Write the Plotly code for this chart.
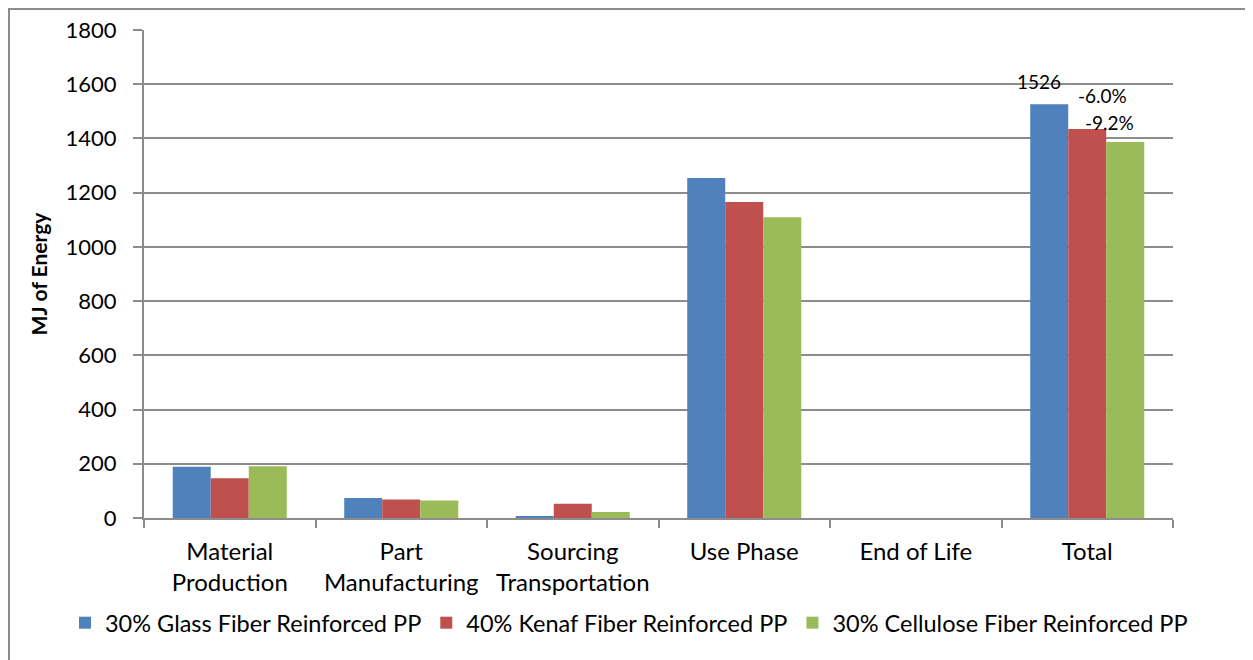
import plotly.graph_objects as go

categories = ["Material<br>Production", "Part<br>Manufacturing", "Sourcing<br>Transportation",
              "Use Phase", "End of Life", "Total"]
series_names = ["30% Glass Fiber Reinforced PP", "40% Kenaf Fiber Reinforced PP",
                "30% Cellulose Fiber Reinforced PP"]
glass = [189, 74, 7, 1254, 0, 1526]
kenaf = [147, 68, 53, 1166, 0, 1435]
cellulose = [191, 65, 22, 1109, 0, 1387]
total_labels = ["1526", "-6.0%", "-9.2%"]
colors = ["#4F81BD", "#C0504D", "#9BBB59"]
y_ticks = [0, 200, 400, 600, 800, 1000, 1200, 1400, 1600, 1800]

FONT = "Lato, Liberation Sans, sans-serif"

fig = go.Figure()
for name, vals, col in zip(series_names, [glass, kenaf, cellulose], colors):
    fig.add_trace(go.Bar(x=categories, y=vals, name=name, marker_color=col,
                         marker_line_width=0))

# data labels on Total group
shifts = [(-10 - 38, 9), (15, 20), (22, 6)]
for vals, lab, (xs, ys) in zip([glass, kenaf, cellulose], total_labels, shifts):
    fig.add_annotation(x=categories[-1], y=vals[-1], text=lab, showarrow=False,
                       xref="x", yref="y", xanchor="center", yanchor="bottom",
                       xshift=xs, yshift=ys, font=dict(size=19, color="black", family=FONT))

# outer chart border
fig.add_shape(type="rect", xref="paper", yref="paper", x0=-0.1312, x1=1.2, y0=-0.32, y1=1.043,
              line=dict(color="#8c8c8c", width=2), fillcolor="rgba(0,0,0,0)", layer="below")

fig.update_layout(
    width=1245, height=652,
    margin=dict(l=136, r=80, t=22, b=142, autoexpand=False),
    plot_bgcolor="white", paper_bgcolor="white",
    barmode="group", bargap=0.335, bargroupgap=0,
    font=dict(family=FONT, size=22, color="black"),
    showlegend=True,
    legend=dict(orientation="h", x=-0.0768, xanchor="left", y=-0.215, yanchor="middle",
                font=dict(size=23.5, family=FONT), tracegroupgap=0,
                bgcolor="rgba(0,0,0,0)"),
    xaxis=dict(showline=True, linecolor="#8c8c8c", linewidth=2, ticks="outside",
               tickson="boundaries", ticklen=8, tickcolor="#8c8c8c", tickwidth=2,
               showgrid=False, tickfont=dict(size=24, family=FONT), ticklabelstandoff=11,
               automargin=False),
    yaxis=dict(range=[0, 1800], tickvals=y_ticks, showline=True, linecolor="#8c8c8c",
               linewidth=2, ticks="outside", ticklen=9, tickcolor="#8c8c8c", tickwidth=2,
               showgrid=True, gridcolor="#8c8c8c", gridwidth=2, zeroline=False,
               tickfont=dict(size=22, family=FONT), ticklabelstandoff=12, automargin=False,
               title=dict(text="<b>MJ of Energy</b>", font=dict(size=21, family=FONT), standoff=12)),
)

fig.write_html("out.html")
